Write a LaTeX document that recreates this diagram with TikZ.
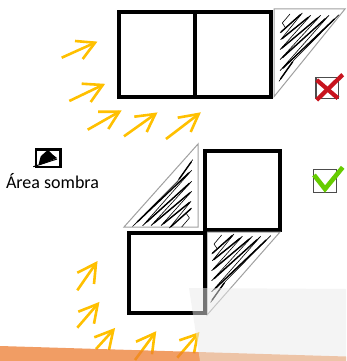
\documentclass[tikz,border=0pt]{standalone}
\usepackage{fontspec}
\setmainfont{Carlito}
\definecolor{sunyellow}{HTML}{FFC000}
\definecolor{edgegray}{HTML}{A0A0A0}
\tikzset{
  wallbox/.style={draw=black,line width=4.2pt,fill=white,line join=miter},
  shadetri/.style={draw=edgegray,line width=1pt,fill=white,line join=miter},
  sunray/.style={draw=sunyellow,line width=2.6pt,line cap=butt,line join=miter},
  scribble/.style={draw=black,line width=.6pt,line join=round,line cap=round},
  scribblecore/.style={draw=black,line width=1.4pt,line cap=round},
  tickbox/.style={draw=black!70,line width=1.3pt,fill=white}
}
\newcommand{\sunarrow}[4]{\draw[sunray] #1 -- #2; \draw[sunray] #3 -- #2 -- #4;}
\newcommand{\hatchlines}{%
\draw[scribble] (290,14) -- (282.3,23) -- (285.7,28) -- (280,33) -- (302.3,13) -- (280.7,39.7) -- (310.7,15.3) -- (280,49.7) -- (320.7,15.3) -- (280,59.7) -- (329,15.3) -- (280,70.7) -- (339,14.7) -- (294,60) -- (279,81.3);
\draw[scribblecore] (281,32) -- (300.5,14.6);
\draw[scribblecore] (282.2,38.5) -- (308.3,17.3);
\draw[scribblecore] (282,48) -- (317.4,18.2);
\draw[scribblecore] (282.5,57.5) -- (325,19);
\draw[scribblecore] (283,68) -- (334.3,19.2);
\draw[scribblecore] (280.5,79) -- (292.5,62);}
\begin{document}
\begin{tikzpicture}[x=1pt,y=-1pt]
\useasboundingbox (0,0) rectangle (346,361);
\fill[white] (0,0) rectangle (346,361);
% top row
\draw[wallbox] (119,12) rectangle (195,96.7);
\draw[wallbox] (195,12) rectangle (271.3,96.7);
\draw[shadetri] (274,9) -- (345,9) -- (274,96.7) -- cycle;
\hatchlines
% middle row
\draw[shadetri] (198,144) -- (198,227) -- (124,227) -- cycle;
\begin{scope}[shift={(471.7,241)},scale=-1]
\hatchlines
\end{scope}
\draw[wallbox] (205.3,151) rectangle (279.7,230);
% lower row
\draw[shadetri] (207,232) -- (280,232) -- (207,315) -- cycle;
\begin{scope}[shift={(-68.3,221)}]
\hatchlines
\end{scope}
\draw[wallbox] (128.7,233) rectangle (204.7,313);
% sun arrows, top group
\sunarrow{(61.7,57.7)}{(95,42.7)}{(75,41)}{(82.7,59)}
\sunarrow{(69.3,101)}{(102.7,85)}{(81.7,83.7)}{(90.7,102)}
\sunarrow{(87.7,129.7)}{(119.3,111.7)}{(98,111.7)}{(108.3,129)}
\sunarrow{(124,136.3)}{(155.3,114)}{(134.3,116.7)}{(146.7,132)}
\sunarrow{(166,139)}{(198.7,114)}{(177.7,117.7)}{(190.7,132)}
% sun arrows, bottom group
\sunarrow{(77.3,290.3)}{(96,263.3)}{(77.3,272.7)}{(94,284)}
\sunarrow{(77.3,327.7)}{(97.7,304)}{(78.3,311.7)}{(94,323.7)}
\sunarrow{(96,349)}{(113.3,330)}{(94.3,337.3)}{(109,350)}
\sunarrow{(135,360)}{(154.7,333.3)}{(136,341.7)}{(152,354.3)}
\sunarrow{(177.3,357.7)}{(197.7,334)}{(179.3,340.3)}{(194,353.3)}
% orange band and pale overlay
\fill[color={rgb,255:red,237;green,125;blue,49},opacity=.75] (0,346) -- (346,356.5) -- (346,361) -- (0,361) -- cycle;
\fill[color={rgb,255:red,235;green,235;blue,235},opacity=.5] (189,288) -- (346,289) -- (346,361) -- (200,361) -- cycle;
% tick boxes
\draw[tickbox] (316,77.3) rectangle (338.7,98.3);
\draw[draw={rgb,255:red,200;green,20;blue,30},line width=4.2pt] (316.7,100) -- (342.7,74.7);
\draw[draw={rgb,255:red,200;green,20;blue,30},line width=4.2pt] (316.7,80) -- (338,98.3);
\draw[tickbox] (313.3,169.3) rectangle (336.7,192.3);
\draw[draw={rgb,255:red,102;green,204;blue,0},line width=4.6pt,line join=miter] (314,175) -- (325,189) -- (342.7,167.3);
% legend
\draw[draw=black,line width=2.4pt,fill=white] (36,149.5) rectangle (60.5,167);
\fill[black] (38.7,164) -- (40.7,156.3) -- (48,149.7) -- (52,154) -- (57,158) -- (40,165) -- cycle;
\draw[black,line width=1pt] (33.3,166.7) -- (57,159);
\node[inner sep=0pt,font=\fontsize{18}{20}\selectfont] (legend) at (52.5,181) {Área sombra};
\end{tikzpicture}
\end{document}
